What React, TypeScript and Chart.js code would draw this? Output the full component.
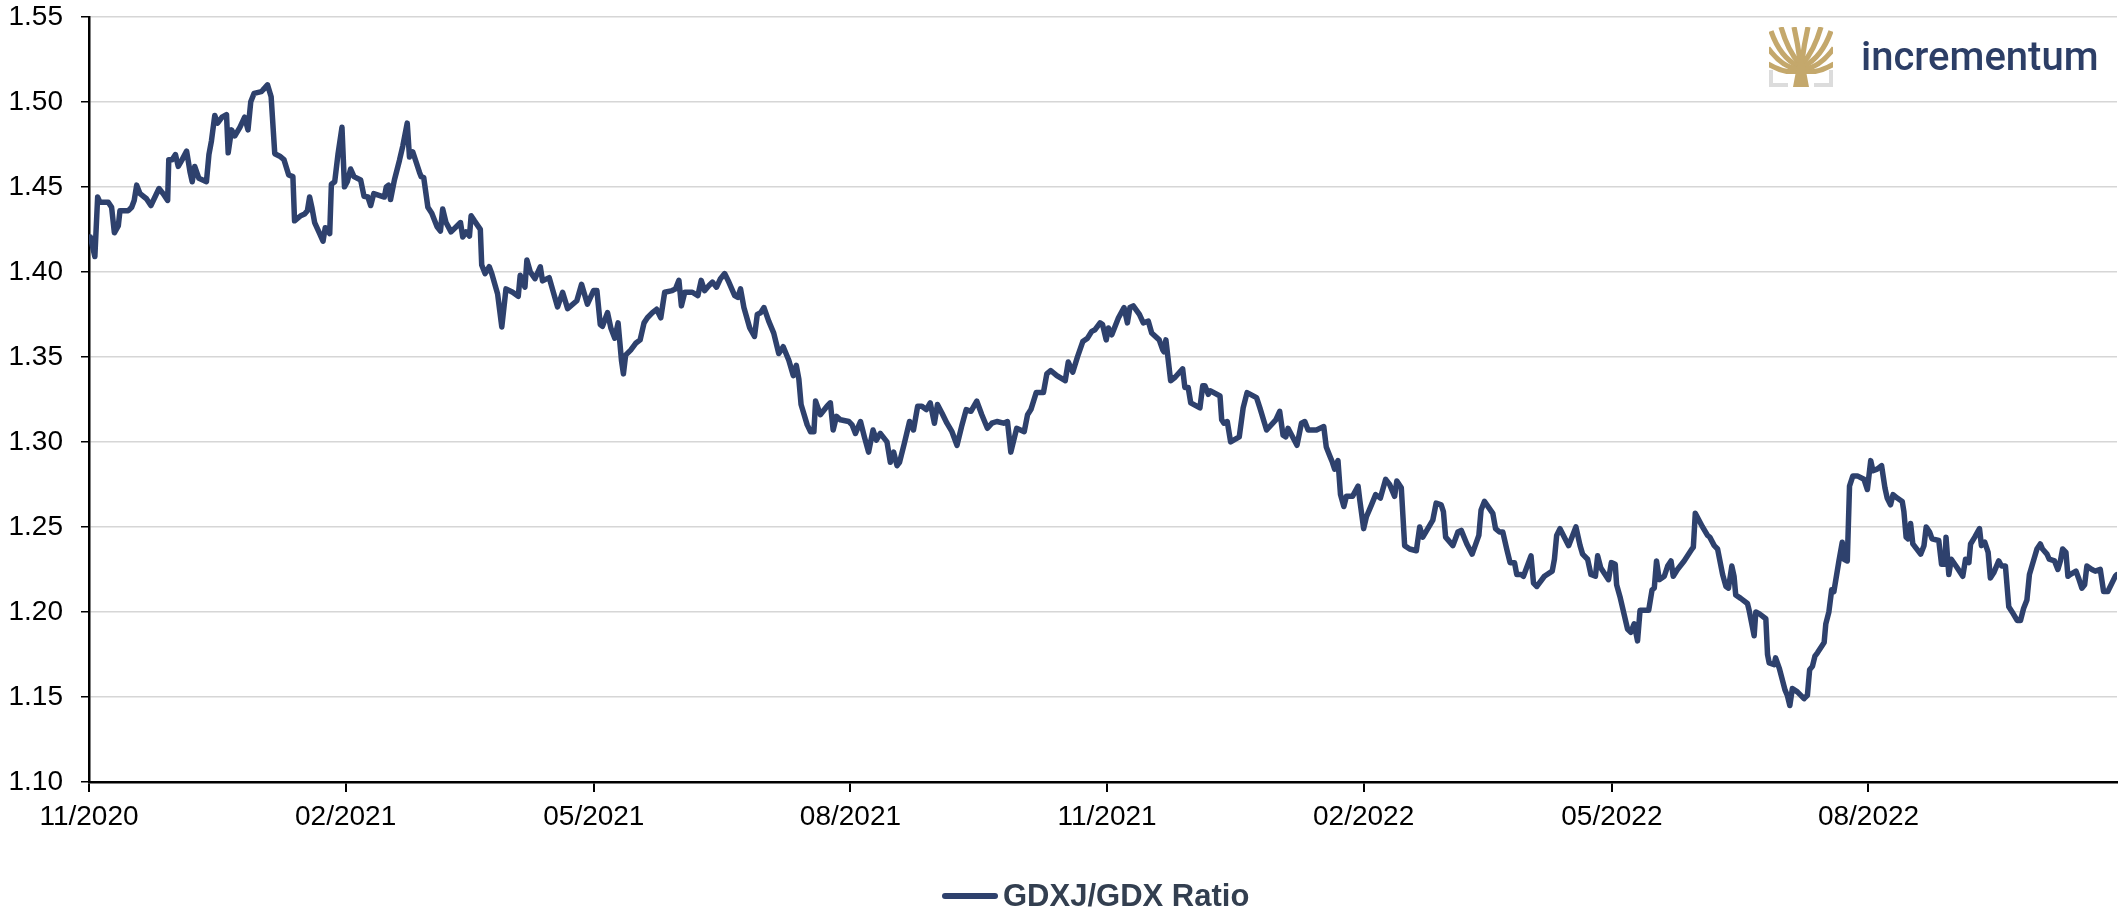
import React, { useEffect, useRef } from 'react';
import { Chart, registerables } from 'chart.js';

Chart.register(...registerables);

// ---------- data ----------
const seriesLabel = 'GDXJ/GDX Ratio';
const axisStart = { year: 2020, month: 11 }; // day 0 = 1 Nov 2020
const tickLabels = ['11/2020', '02/2021', '05/2021', '08/2021', '11/2021', '02/2022', '05/2022', '08/2022'];
const yTickValues = [1.1, 1.15, 1.2, 1.25, 1.3, 1.35, 1.4, 1.45, 1.5, 1.55];

// days since 1 Nov 2020
const days = [
  0.5, 2.1, 3.1, 3.9, 6.9, 8.1, 9.1, 10.5, 11.1, 14.1, 15.3, 16.2, 17.1, 18.3, 20.6, 22.2, 25.1, 26.6, 28.2, 28.6,
  29.8, 31.0, 32.0, 33.4, 35.0, 36.2, 37.0, 37.9, 39.4, 42.1, 43.0, 43.9, 45.1, 46.1, 47.7, 49.3, 49.9, 51.1, 52.3, 54.1,
  55.8, 57.0, 58.0, 59.2, 61.8, 62.4, 64.0, 65.3, 66.6, 68.4, 69.9, 71.6, 73.1, 73.7, 75.9, 77.3, 78.3, 79.1, 79.9, 80.9,
  82.7, 83.9, 84.7, 86.3, 86.9, 88.1, 89.3, 90.7, 91.6, 92.6, 93.8, 95.0, 97.4, 98.6, 100.0, 101.0, 102.1, 105.9, 106.6, 107.4,
  108.1, 109.5, 111.3, 112.5, 114.1, 114.9, 116.1, 118.5, 119.1, 120.0, 121.5, 122.9, 124.8, 126.0, 126.8, 128.0, 129.8, 133.2, 134.0, 135.2,
  136.4, 137.0, 138.2, 140.3, 140.8, 142.0, 143.5, 144.4, 146.5, 148.0, 149.5, 151.9, 153.9, 154.6, 156.3, 157.0, 158.2, 159.9, 161.8, 162.6,
  165.0, 168.0, 169.8, 171.6, 174.9, 176.6, 178.7, 180.9,
  182.1, 183.3, 184.1, 185.9, 187.1, 188.5, 189.7, 190.9, 191.6, 192.4, 194.2, 196.0, 197.6, 199.0, 200.2, 202.0, 203.5, 205.0, 206.4, 209.1,
  210.3, 211.5, 212.4, 213.6, 216.3, 218.3, 219.5, 220.7, 222.3, 223.5, 225.0, 226.4, 227.9, 229.4, 231.5, 232.6, 233.6, 234.8, 236.9, 238.6,
  239.6, 240.8, 242.0, 243.7, 245.5, 247.3, 248.9, 250.9, 252.5, 253.6, 254.5, 255.3, 257.5, 258.7, 259.9, 260.5, 262.2, 264.6, 265.8, 266.8,
  268.0, 269.4, 272.4, 273.6, 274.8, 276.6, 278.0, 279.5, 281.1, 282.3, 283.7, 286.1, 287.3, 288.5, 289.7, 290.6, 292.3, 294.2, 295.6, 297.1,
  298.6, 300.2, 301.6, 303.1, 304.2, 305.8, 307.6, 309.4, 311.2, 313.0, 314.5, 316.2, 318.3, 320.1, 322.1, 323.7, 325.5, 327.9, 329.3, 330.5,
  332.6, 335.3, 336.5, 337.7, 339.6, 342.2, 343.4, 344.8, 347.0, 350.0, 351.1, 352.7, 354.4, 356.3, 358.0, 359.5, 360.7, 362.5, 363.4,
  364.7, 365.5, 366.7, 369.1, 371.1, 372.3, 373.2, 374.4, 376.6, 378.0, 379.8, 381.0, 383.7, 385.0, 385.4, 386.1, 387.8, 389.4, 392.1, 392.9,
  394.1, 395.0, 398.3, 399.3, 400.1, 401.3, 402.1, 405.5, 406.1, 406.9, 408.1, 409.3, 412.4, 413.8, 415.2, 418.6, 419.8, 422.2, 425.5, 426.9,
  428.1, 429.1, 429.9, 433.1, 434.7, 435.9, 437.1, 440.1, 442.7, 443.6, 444.8, 445.8, 446.6, 447.8, 448.7, 449.9, 450.8, 453.0, 455.0, 455.6,
  457.0, 458.0, 459.8, 461.3, 463.0, 464.9, 466.3, 468.1, 468.9, 470.5, 471.7, 473.5, 475.9, 477.1, 478.2, 480.0, 481.8, 483.0, 484.8, 485.6,
  486.4, 489.0, 490.8, 492.0, 494.0, 495.9, 498.3, 499.1, 500.3, 503.3, 504.3, 505.7, 506.9, 508.3, 509.5, 511.1, 511.9, 513.5, 514.3, 517.0,
  517.9, 519.1, 521.8, 524.6, 525.4, 526.2, 527.4, 530.5, 533.1, 534.6, 535.5, 537.3, 538.5, 540.1, 540.9, 542.0, 544.8, 545.8,
  547.2, 547.7, 548.9, 551.6, 552.8, 554.0, 555.2, 556.1, 559.2, 560.4, 561.2, 562.0, 563.0, 564.8, 566.0, 567.2, 568.0, 569.5, 571.9, 574.7,
  575.2, 575.9, 578.5, 580.3, 581.1, 582.7, 583.9, 585.7, 586.9, 587.8, 589.0, 589.8, 590.4, 592.2, 594.6, 595.2, 597.0, 597.6, 598.8, 601.2,
  601.8, 602.4, 604.2, 604.7, 606.0, 608.1, 608.9, 609.8, 610.7, 612.5, 614.9, 616.1, 616.9, 617.9, 618.8, 619.7, 622.1, 622.7, 623.8, 624.8,
  625.6, 627.4, 628.6, 629.2, 630.4, 631.2, 632.4, 634.0, 636.4, 637.6, 638.8, 639.6, 641.1, 642.7, 643.9, 644.7, 645.9, 646.8, 648.3, 650.1,
  650.7, 651.5, 652.2, 653.1, 653.9, 656.7, 657.9, 658.7, 659.9, 660.8, 663.2, 664.2, 665.4, 665.8, 666.8, 667.7, 669.8, 671.8, 672.8, 674.0,
  674.6, 676.1, 677.8, 678.5, 679.7, 680.9, 681.7, 682.9, 684.7, 685.7, 687.1, 688.3, 689.5, 691.3, 692.5, 693.6, 694.8, 695.7, 696.6, 698.4,
  699.6, 700.4, 702.0, 702.8, 704.7, 705.9, 706.8, 707.6, 708.8, 709.5, 710.3, 712.4, 713.3, 714.5, 715.5, 716.3, 718.1, 719.3, 721.1, 722.3,
  723.8, 725.3, 726.5, 727.1,
];

const ratio = [
  1.4205, 1.409, 1.444, 1.441, 1.441, 1.438, 1.423, 1.427, 1.436, 1.436, 1.438, 1.442, 1.451, 1.446, 1.443, 1.439, 1.449, 1.446, 1.442, 1.466,
  1.466, 1.469, 1.462, 1.466, 1.471, 1.459, 1.453, 1.462, 1.455, 1.453, 1.469, 1.477, 1.492, 1.4875, 1.491, 1.4925, 1.47, 1.4835, 1.48, 1.485,
  1.491, 1.4835, 1.5, 1.505, 1.506, 1.507, 1.51, 1.503, 1.4695, 1.468, 1.466, 1.457, 1.456, 1.43, 1.433, 1.434, 1.436, 1.444, 1.438, 1.429,
  1.4225, 1.418, 1.426, 1.4225, 1.4515, 1.453, 1.4695, 1.485, 1.45, 1.453, 1.4605, 1.456, 1.454, 1.4445, 1.444, 1.439, 1.446, 1.444, 1.45, 1.451,
  1.4425, 1.454, 1.4655, 1.474, 1.4875, 1.4675, 1.4705, 1.4585, 1.456, 1.4555, 1.438, 1.4345, 1.4265, 1.424, 1.437, 1.429, 1.4235, 1.429, 1.4205, 1.4235,
  1.421, 1.433, 1.43, 1.425, 1.404, 1.399, 1.403, 1.399, 1.387, 1.3676, 1.39, 1.388, 1.3856, 1.398, 1.391, 1.407, 1.4, 1.396, 1.403, 1.3947,
  1.3966, 1.3794, 1.388, 1.3784, 1.383, 1.3927, 1.381, 1.389,
  1.389, 1.369, 1.368, 1.376, 1.367, 1.361, 1.37, 1.348, 1.34, 1.351, 1.354, 1.358, 1.36, 1.37, 1.373, 1.376, 1.378, 1.373, 1.388, 1.389,
  1.39, 1.395, 1.38, 1.388, 1.388, 1.386, 1.395, 1.389, 1.392, 1.394, 1.391, 1.396, 1.399, 1.394, 1.386, 1.385, 1.39, 1.379, 1.367, 1.362,
  1.375, 1.376, 1.379, 1.371, 1.364, 1.352, 1.356, 1.348, 1.339, 1.345, 1.337, 1.322, 1.31, 1.306, 1.306, 1.324, 1.316, 1.321, 1.323, 1.307,
  1.315, 1.313, 1.312, 1.31, 1.305, 1.312, 1.303, 1.294, 1.307, 1.301, 1.305, 1.3, 1.288, 1.294, 1.286, 1.288, 1.299, 1.312, 1.307, 1.321,
  1.321, 1.319, 1.323, 1.311, 1.322, 1.317, 1.311, 1.306, 1.298, 1.31, 1.319, 1.318, 1.324, 1.316, 1.308, 1.311, 1.312, 1.311, 1.312, 1.294,
  1.308, 1.306, 1.316, 1.319, 1.329, 1.329, 1.34, 1.342, 1.339, 1.336, 1.347, 1.341, 1.35, 1.359, 1.361, 1.365, 1.366, 1.37, 1.369,
  1.36, 1.367, 1.363, 1.373, 1.379, 1.37, 1.379, 1.38, 1.375, 1.37, 1.371, 1.364, 1.36, 1.354, 1.353, 1.36, 1.336, 1.338, 1.343, 1.332,
  1.332, 1.323, 1.32, 1.333, 1.333, 1.328, 1.33, 1.327, 1.313, 1.311, 1.312, 1.3, 1.303, 1.32, 1.329, 1.326, 1.32, 1.307, 1.313, 1.318,
  1.304, 1.303, 1.308, 1.298, 1.311, 1.312, 1.307, 1.307, 1.309, 1.297, 1.292, 1.288, 1.284, 1.289, 1.269, 1.262, 1.268, 1.268, 1.274, 1.266,
  1.249, 1.256, 1.263, 1.269, 1.267, 1.278, 1.275, 1.268, 1.277, 1.273, 1.239, 1.237, 1.236, 1.25, 1.244, 1.249, 1.254, 1.264, 1.263, 1.259,
  1.244, 1.239, 1.247, 1.248, 1.24, 1.234, 1.245, 1.26, 1.265, 1.258, 1.249, 1.247, 1.247, 1.237, 1.229, 1.229, 1.222, 1.222, 1.221, 1.233,
  1.217, 1.215, 1.221, 1.224, 1.231, 1.245, 1.249, 1.239, 1.25, 1.239, 1.234, 1.231, 1.222, 1.221, 1.233, 1.226, 1.219, 1.229,
  1.228, 1.216, 1.209, 1.19, 1.188, 1.193, 1.183, 1.201, 1.201, 1.213, 1.214, 1.23, 1.219, 1.221, 1.227, 1.23, 1.221, 1.225, 1.23, 1.237,
  1.238, 1.258, 1.25, 1.245, 1.244, 1.239, 1.237, 1.222, 1.215, 1.214, 1.227, 1.221, 1.21, 1.208, 1.205, 1.201, 1.186, 1.2, 1.199, 1.196,
  1.175, 1.17, 1.169, 1.173, 1.167, 1.154, 1.151, 1.145, 1.155, 1.153, 1.149, 1.151, 1.166, 1.168, 1.174, 1.176, 1.182, 1.193, 1.2, 1.213,
  1.212, 1.23, 1.241, 1.231, 1.23, 1.274, 1.28, 1.28, 1.278, 1.272, 1.289, 1.283, 1.284, 1.286, 1.273, 1.267, 1.263, 1.269, 1.267, 1.265,
  1.259, 1.244, 1.243, 1.252, 1.24, 1.234, 1.239, 1.25, 1.247, 1.243, 1.242, 1.228, 1.228, 1.244, 1.222, 1.231, 1.226, 1.221, 1.231, 1.229,
  1.24, 1.244, 1.249, 1.239, 1.241, 1.235, 1.22, 1.223, 1.23, 1.227, 1.227, 1.203, 1.2, 1.195, 1.195, 1.202, 1.207, 1.222, 1.227, 1.237,
  1.24, 1.237, 1.234, 1.231, 1.23, 1.225, 1.23, 1.237, 1.235, 1.221, 1.222, 1.224, 1.22, 1.214, 1.216, 1.227, 1.225, 1.224, 1.225, 1.212,
  1.212, 1.217, 1.221, 1.222,
];

// ---------- helpers ----------
const labelToDay = (label: string) => {
  const [m, y] = label.split('/').map(Number);
  return (Date.UTC(y, m - 1, 1) - Date.UTC(axisStart.year, axisStart.month - 1, 1)) / 86400000;
};
const tickDays = tickLabels.map(labelToDay);

const LINE_COLOR = '#2e416d';
const FONT = '"Liberation Sans", Arial, Helvetica, sans-serif';
const CANVAS_SHIFT = 18; // canvas box is moved up so the plot top sits at the 1.55 line position

function TreeLogo() {
  const gold = '#c4a86c';
  return (
    <svg width={64} height={60} viewBox="0 0 64 60" style={{ position: 'absolute', left: 1769, top: 27 }}>
      <defs>
        <clipPath id="canopy">
          <rect x="0" y="0" width="64" height="47" />
        </clipPath>
      </defs>
      <g fill="#dcdcdc">
        <rect x="0" y="43" width="4" height="17" />
        <rect x="0" y="56" width="19" height="4" />
        <rect x="60" y="43" width="4" height="17" />
        <rect x="45" y="56" width="19" height="4" />
      </g>
      <g clipPath="url(#canopy)" stroke={gold} strokeWidth={5.2} fill="none">
        <path d="M31 34 Q29 18 25 0" />
        <path d="M33 34 Q35 18 39 0" />
        <path d="M30 36 Q19 24 12 0" />
        <path d="M34 36 Q45 24 52 0" />
        <path d="M29 39 Q11 30 2 4" />
        <path d="M35 39 Q53 30 62 4" />
        <path d="M28 42 Q13 40 -1 21" />
        <path d="M36 42 Q51 40 65 21" />
        <path d="M28 45 Q14 46 -1 37" />
        <path d="M36 45 Q50 46 65 37" />
      </g>
      <path d="M24 60 L27 44 Q28 36 32 31 Q36 36 37 44 L40 60 Z" fill={gold} />
    </svg>
  );
}

export default function App() {
  const canvasRef = useRef<HTMLCanvasElement | null>(null);

  useEffect(() => {
    if (!canvasRef.current) return;
    const chart = new Chart(canvasRef.current, {
      type: 'line',
      data: {
        datasets: [
          {
            label: seriesLabel,
            data: days.map((d, i) => ({ x: d, y: ratio[i] })),
            borderColor: LINE_COLOR,
            backgroundColor: LINE_COLOR,
            borderWidth: 5.5,
            pointRadius: 0,
            tension: 0,
            borderJoinStyle: 'round',
            borderCapStyle: 'round',
            fill: false,
          },
        ],
      },
      options: {
        animation: false,
        responsive: true,
        maintainAspectRatio: false,
        events: [],
        layout: { padding: { left: 0, right: 4, top: 0, bottom: 0 } },
        plugins: {
          legend: { display: false },
          tooltip: { enabled: false },
        },
        scales: {
          x: {
            type: 'linear',
            min: 0,
            max: days[days.length - 1],
            afterBuildTicks: (scale: any) => {
              scale.ticks = tickDays.map((v) => ({ value: v }));
            },
            afterFit: (scale: any) => {
              scale.height = 130;
            },
            ticks: {
              autoSkip: false,
              maxRotation: 0,
              minRotation: 0,
              padding: 8,
              color: '#000',
              font: { family: FONT, size: 28 },
              callback: (_v: any, i: number) => tickLabels[i],
            },
            grid: {
              drawOnChartArea: false,
              drawTicks: true,
              tickLength: 10,
              tickColor: '#000',
              lineWidth: 2,
              color: '#000',
            },
            border: { display: true, color: '#000', width: 2.5 },
          },
          y: {
            type: 'linear',
            min: yTickValues[0],
            max: yTickValues[yTickValues.length - 1],
            afterBuildTicks: (scale: any) => {
              scale.ticks = yTickValues.map((v) => ({ value: v }));
            },
            afterFit: (scale: any) => {
              scale.width = 89;
            },
            ticks: {
              padding: 18,
              color: '#000',
              font: { family: FONT, size: 28 },
              callback: (v: any) => Number(v).toFixed(2),
            },
            grid: {
              color: '#d6d6d6',
              lineWidth: 1.5,
              tickLength: 8,
              tickColor: '#000',
            },
            border: { display: true, color: '#000', width: 2.5 },
          },
        },
      },
    });
    return () => chart.destroy();
  }, []);

  return (
    <div style={{ position: 'absolute', left: 0, top: 0, width: 2121, height: 912, background: '#fff', overflow: 'hidden' }}>
      <div style={{ position: 'absolute', left: 0, top: -CANVAS_SHIFT, width: 2121, height: 912 + CANVAS_SHIFT }}>
        <canvas ref={canvasRef} />
      </div>
      <TreeLogo />
      <div
        style={{
          position: 'absolute',
          left: 1861,
          top: 37,
          fontFamily: 'Roboto, "Liberation Sans", Arial, sans-serif',
          fontWeight: 500,
          fontSize: 40,
          lineHeight: '40px',
          color: '#2c3e66',
          whiteSpace: 'nowrap',
        }}
      >
        incrementum
      </div>
      <div
        style={{
          position: 'absolute',
          left: 942,
          top: 893,
          width: 56,
          height: 6,
          borderRadius: 3,
          background: LINE_COLOR,
        }}
      />
      <div
        style={{
          position: 'absolute',
          left: 1003,
          top: 880,
          fontFamily: FONT,
          fontWeight: 700,
          fontSize: 31,
          lineHeight: '31px',
          color: '#333f50',
          whiteSpace: 'nowrap',
        }}
      >
        {seriesLabel}
      </div>
    </div>
  );
}
